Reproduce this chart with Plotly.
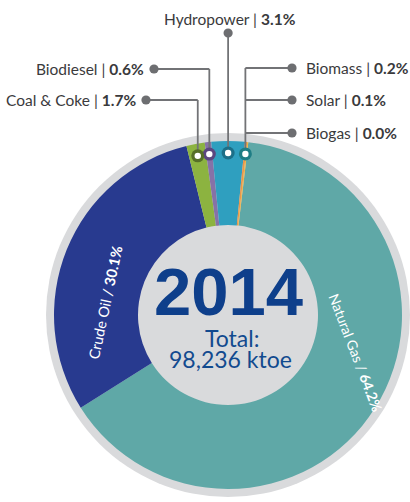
import math
import plotly.graph_objects as go

# ---------------- data ----------------
categories = ["Natural Gas", "Crude Oil", "Coal & Coke", "Biodiesel",
              "Hydropower", "Biomass", "Solar", "Biogas"]
shares = [64.2, 30.1, 1.7, 0.6, 3.1, 0.2, 0.1, 0.0]
year_label = "2014"
total_label = "98,236 ktoe"

# ---------------- styles ----------------
W, H = 410, 502
CX, CY = 228, 315
R_OUT, R_RING, R_IN = 174, 182, 90
R_DOT = 162
ROTATION = 6.7
colors = ["#5fa8a7", "#283a8f", "#8cb340", "#8672a7",
          "#2f9fbf", "#e9964a", "#f0b440", "#c9a13a"]
dot_colors = {"Coal & Coke": "#566f28", "Biodiesel": "#5b4680",
              "Hydropower": "#1c6f88", "group": "#1f7d85"}
GRAY = "#d9dadc"
LINE = "#727376"
DOTG = "#6d6e71"
TXT = "#3a3a3c"
FONT = "Lato"
LBL_SIZE = 15.5


def px(x):
    return x / W


def py(y):
    return 1 - y / H


fig = go.Figure()

# outer gray ring (background disc)
fig.add_trace(go.Pie(
    values=[1], labels=["bg"], marker=dict(colors=[GRAY], line=dict(width=0)),
    textinfo="none", hoverinfo="skip", showlegend=False, sort=False,
    domain=dict(x=[px(CX - R_RING), min(1, px(CX + R_RING))],
                y=[py(CY + R_RING), py(CY - R_RING)])))

# donut
fig.add_trace(go.Pie(
    values=shares, labels=categories, sort=False, direction="clockwise",
    rotation=ROTATION, hole=R_IN / R_OUT,
    marker=dict(colors=colors, line=dict(width=0)),
    textinfo="none", hoverinfo="skip", showlegend=False,
    domain=dict(x=[px(CX - R_OUT), px(CX + R_OUT)],
                y=[py(CY + R_OUT), py(CY - R_OUT)])))

# slice mid angles computed from the data
total = sum(shares)
starts = []
acc = 0
for v in shares:
    starts.append(ROTATION + 360 * acc / total)
    acc += v


def mid(idx_list):
    a0 = starts[idx_list[0]]
    span = sum(360 * shares[i] / total for i in idx_list)
    return a0 + span / 2


def pos(angle_deg, r=R_DOT):
    a = math.radians(angle_deg)
    return CX + r * math.sin(a), CY - r * math.cos(a)


shapes = []
annotations = []


def line(x0, y0, x1, y1):
    shapes.append(dict(type="line", xref="paper", yref="paper",
                       x0=px(x0), y0=py(y0), x1=px(x1), y1=py(y1),
                       line=dict(color=LINE, width=1.8), layer="above"))


def circle(x, y, r, color):
    shapes.append(dict(type="circle", xref="paper", yref="paper",
                       x0=px(x - r), x1=px(x + r), y0=py(y + r), y1=py(y - r),
                       fillcolor=color, line=dict(width=0), layer="above"))


def text(x, y, t, anchor="center", size=LBL_SIZE, color=TXT, family=FONT,
         angle=0, **kw):
    annotations.append(dict(x=px(x), y=py(y), xref="paper", yref="paper",
                            text=t, showarrow=False, xanchor=anchor,
                            yanchor="middle", textangle=angle,
                            font=dict(family=family, size=size, color=color),
                            **kw))


def lbl(name, val):
    return f"{name} | <b>{val:.1f}%</b>"


i_coal = categories.index("Coal & Coke")
i_bio = categories.index("Biodiesel")
i_hyd = categories.index("Hydropower")
grp = [categories.index("Biomass"), categories.index("Solar"), categories.index("Biogas")]

slice_dots = []

# Hydropower (straight up)
hx, hy = pos(mid([i_hyd]))
line(hx, 33, hx, hy)
circle(hx, 33, 4.6, DOTG)
text(hx + 2, 19, lbl("Hydropower", shares[i_hyd]))
slice_dots.append((hx, hy, dot_colors["Hydropower"]))

# Biodiesel
bx, by = pos(mid([i_bio]))
line(154, 69, bx, 69)
line(bx, 69, bx, by)
circle(154, 69, 4.6, DOTG)
text(146, 69, lbl("Biodiesel", shares[i_bio]), "right")
slice_dots.append((bx, by, dot_colors["Biodiesel"]))

# Coal & Coke
cx_, cy_ = pos(mid([i_coal]))
line(146, 100, cx_, 100)
line(cx_, 100, cx_, cy_)
circle(146, 100, 4.6, DOTG)
text(138, 100, lbl("Coal & Coke", shares[i_coal]), "right")
slice_dots.append((cx_, cy_, dot_colors["Coal & Coke"]))

# Biomass / Solar / Biogas group
gx, gy = pos(mid(grp))
line(gx, 68, gx, gy)
for yy, idx in zip([68, 100, 133], grp):
    line(gx, yy, 292, yy)
    circle(292, yy, 4.6, DOTG)
    text(304, yy, lbl(categories[idx], shares[idx]), "left")
slice_dots.append((gx, gy, dot_colors["group"]))

for x, y, c in slice_dots:
    circle(x, y, 6.5, c)
    circle(x, y, 3.2, "#ffffff")

# in-slice labels
i_ng = categories.index("Natural Gas")
i_co = categories.index("Crude Oil")
text(105, 302, f"Crude Oil / <b>{shares[i_co]:.1f}%</b>", size=14.5,
     color="#ffffff", angle=-78)
text(356, 352, f"Natural Gas / <b>{shares[i_ng]:.1f}%</b>", size=14,
     color="#ffffff", angle=69)

# centre text
text(228, 291, f"<b>{year_label}</b>", size=67, color="#0e3f8b",
     family="Liberation Sans")
text(232, 338, "Total:", size=23, color="#124a8f")
text(230, 359, total_label, size=23, color="#124a8f")

fig.update_layout(width=W, height=H, margin=dict(l=0, r=0, t=0, b=0),
                  paper_bgcolor="#ffffff", plot_bgcolor="#ffffff",
                  shapes=shapes, annotations=annotations, showlegend=False)

fig.write_html("out.html", config={"displayModeBar": False},
               post_script="document.body.style.margin='0';"
                           "document.body.style.overflow='hidden';")
